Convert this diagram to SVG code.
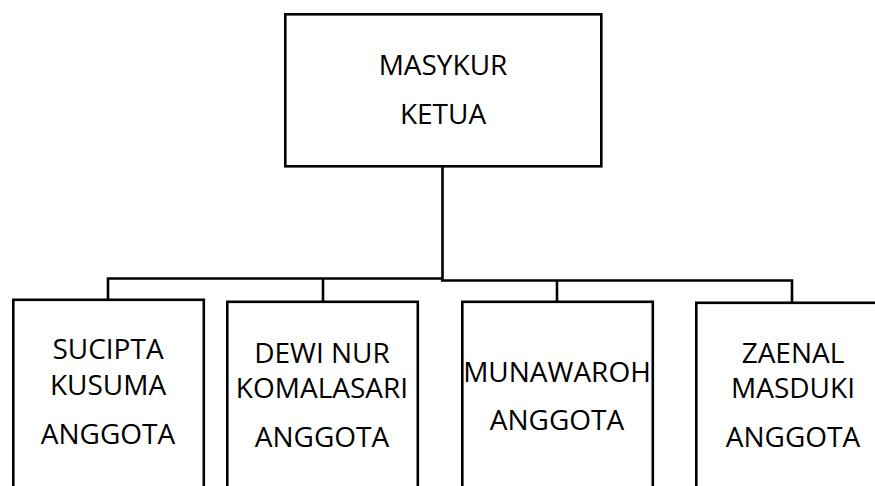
<svg xmlns="http://www.w3.org/2000/svg" width="875" height="486" viewBox="0 0 875 486">
<style>
.box{fill:#fff;stroke:#000;stroke-width:2.6}
.ln{fill:none;stroke:#000;stroke-width:2.6}
.t{font-family:"Open Sans","Liberation Sans",sans-serif;font-size:28px;fill:#000;text-anchor:middle}
</style>
<rect width="875" height="486" fill="#fff"/>
<g id="connectors">
<path class="ln" d="M442.5 167 V279.5"/>
<path class="ln" d="M108 300 V278.5 H443"/>
<path class="ln" d="M441 280.5 H792 V302"/>
<path class="ln" d="M323 278.5 V301"/>
<path class="ln" d="M557 280.5 V301"/>
</g>
<g id="ketua">
<rect class="box" x="285.3" y="14.3" width="316" height="152"/>
<text class="t" x="443" y="75">MASYKUR</text>
<text class="t" x="443" y="124">KETUA</text>
</g>
<g id="sucipta">
<rect class="box" x="13.3" y="299.8" width="190.5" height="200"/>
<text class="t" x="108" y="359">SUCIPTA</text>
<text class="t" x="108" y="395">KUSUMA</text>
<text class="t" x="108" y="444">ANGGOTA</text>
</g>
<g id="dewi">
<rect class="box" x="227.3" y="301.8" width="190.5" height="200"/>
<text class="t" x="322" y="363">DEWI NUR</text>
<text class="t" x="322" y="398">KOMALASARI</text>
<text class="t" x="322" y="447">ANGGOTA</text>
</g>
<g id="munawaroh">
<rect class="box" x="462.3" y="301.8" width="190.5" height="200"/>
<text class="t" x="557" y="382">MUNAWAROH</text>
<text class="t" x="557" y="430">ANGGOTA</text>
</g>
<g id="zaenal">
<rect class="box" x="696.3" y="302.8" width="194" height="200"/>
<text class="t" x="793" y="362.5">ZAENAL</text>
<text class="t" x="793" y="398">MASDUKI</text>
<text class="t" x="793" y="447">ANGGOTA</text>
</g>
</svg>
